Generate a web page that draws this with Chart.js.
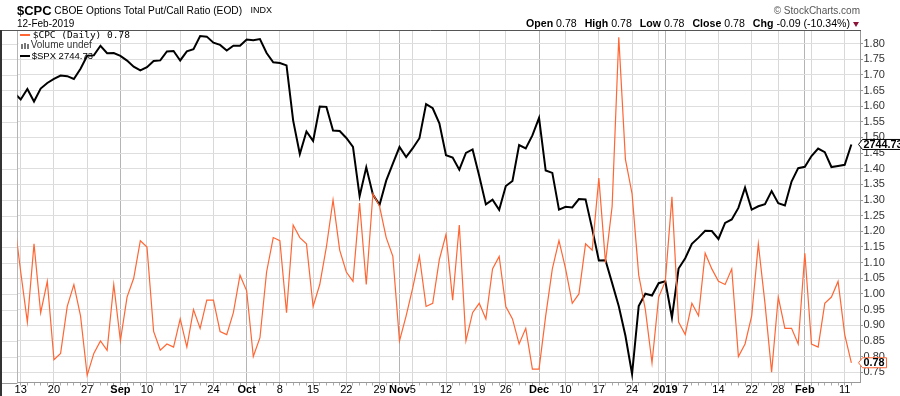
<!DOCTYPE html>
<html>
<head>
<meta charset="utf-8">
<script src="https://cdn.jsdelivr.net/npm/chart.js@4.4.1/dist/chart.umd.min.js"></script>
<style>
  body { margin: 0; background: #fff; }
  #wrap { position: relative; width: 900px; height: 396px; font-family: 'Liberation Sans', Arial, sans-serif; color: #000; overflow: hidden; }
  #wrap canvas { position: absolute; left: 0; top: 0; }
  .t { position: absolute; white-space: nowrap; line-height: 1; }
  .gap { margin-right: 5px; }
</style>
</head>
<body>
<div id="wrap">
  <canvas id="chart" width="900" height="396"></canvas>

  <div class="t" style="left:17px;top:3.6px;font-size:13px;font-weight:bold">$CPC</div>
  <div class="t" style="left:54.3px;top:5.5px;font-size:10.2px">CBOE Options Total Put/Call Ratio (EOD)</div>
  <div class="t" style="left:250.5px;top:6.4px;font-size:9px">INDX</div>
  <div class="t" style="left:17px;top:18.8px;font-size:10px">12-Feb-2019</div>

  <div class="t" style="right:40px;top:5.5px;font-size:10px;color:#555">&copy; StockCharts.com</div>
  <div class="t" style="right:50px;top:17.6px;font-size:10.6px">
    <b>Open</b> <span class="gap">0.78</span>
    <b>High</b> <span class="gap">0.78</span>
    <b>Low</b> <span class="gap">0.78</span>
    <b>Close</b> <span class="gap">0.78</span>
    <b>Chg</b> -0.09 (-10.34%)
  </div>
  <div class="t" style="left:853px;top:22px;width:0;height:0;border-left:3.5px solid transparent;border-right:3.5px solid transparent;border-top:5px solid #8b1538"></div>

  <!-- legend -->
  <div class="t" style="left:20px;top:34.3px;width:10px;height:2px;background:#ff6633"></div>
  <div class="t" style="left:32.7px;top:30.2px;font-family:'DejaVu Sans Mono',monospace;font-size:9.5px;line-height:10px">$CPC (Daily) 0.78</div>
  <div class="t" style="left:20.7px;top:44px;width:2px;height:5px;background:#777"></div>
  <div class="t" style="left:23.7px;top:42.5px;width:2px;height:6.5px;background:#777"></div>
  <div class="t" style="left:26.7px;top:43.5px;width:2px;height:5.5px;background:#777"></div>
  <div class="t" style="left:30.7px;top:40.1px;font-size:10px;line-height:10px;color:#333">Volume undef</div>
  <div class="t" style="left:20px;top:54.8px;width:10px;height:2px;background:#000"></div>
  <div class="t" style="left:31.7px;top:50.8px;font-size:9.5px;line-height:10px">$SPX 2744.73</div>
</div>

<script>
const FONT = "'Liberation Sans', Arial, sans-serif";

// trading days, Aug 10 2018 .. Feb 12 2019 (first one sits just left of the plot)
const days = [
  '08-10','08-13','08-14','08-15','08-16','08-17','08-20','08-21','08-22','08-23','08-24',
  '08-27','08-28','08-29','08-30','08-31',
  '09-04','09-05','09-06','09-07','09-10','09-11','09-12','09-13','09-14','09-17','09-18',
  '09-19','09-20','09-21','09-24','09-25','09-26','09-27','09-28',
  '10-01','10-02','10-03','10-04','10-05','10-08','10-09','10-10','10-11','10-12','10-15',
  '10-16','10-17','10-18','10-19','10-22','10-23','10-24','10-25','10-26','10-29','10-30','10-31',
  '11-01','11-02','11-05','11-06','11-07','11-08','11-09','11-12','11-13','11-14','11-15',
  '11-16','11-19','11-20','11-21','11-23','11-26','11-27','11-28','11-29','11-30',
  '12-03','12-04','12-06','12-07','12-10','12-11','12-12','12-13','12-14','12-17','12-18',
  '12-19','12-20','12-21','12-24','12-26','12-27','12-28','12-31',
  '01-02','01-03','01-04','01-07','01-08','01-09','01-10','01-11','01-14','01-15','01-16',
  '01-17','01-18','01-22','01-23','01-24','01-25','01-28','01-29','01-30','01-31',
  '02-01','02-04','02-05','02-06','02-07','02-08','02-11','02-12'
];

const cpc = [
  1.24, 1.07, 0.91, 1.16, 0.94, 1.04, 0.79, 0.81, 0.96, 1.03, 0.93,
  0.74, 0.81, 0.85, 0.82, 1.03,
  0.85, 0.99, 1.05, 1.17, 1.15, 0.88, 0.82, 0.84, 0.83, 0.92, 0.83,
  0.95, 0.89, 0.98, 0.98, 0.88, 0.87, 0.94, 1.06,
  1.01, 0.80, 0.86, 1.07, 1.18, 1.17, 0.94, 1.22, 1.18, 1.16, 0.96,
  1.03, 1.15, 1.30, 1.14, 1.07, 1.04, 1.29, 1.03, 1.32, 1.28, 1.18, 1.12,
  0.85, 0.93, 1.02, 1.12, 0.96, 0.97, 1.11, 1.19, 0.98, 1.22, 0.85,
  0.94, 0.97, 0.92, 1.08, 1.12, 0.96, 0.92, 0.84, 0.89, 0.76,
  0.76, 0.93, 1.08, 1.17, 1.08, 0.97, 1.00, 1.16, 1.14, 1.37, 1.10,
  1.28, 1.82, 1.43, 1.32, 1.06, 0.95, 0.78, 0.99,
  1.04, 1.31, 0.91, 0.87, 0.97, 0.93, 1.13, 1.08, 1.04, 1.03, 1.08,
  0.80, 0.84, 0.93, 1.16, 0.97, 0.75, 0.99, 0.89, 0.89, 0.84,
  1.13, 0.84, 0.83, 0.97, 0.99, 1.04, 0.87, 0.78
];

const spx = [
  2833.28, 2821.93, 2839.96, 2818.37, 2840.69, 2850.13, 2857.05, 2862.96, 2861.82, 2856.98, 2874.69,
  2896.74, 2897.52, 2914.04, 2901.13, 2901.52,
  2896.72, 2888.60, 2878.05, 2871.68, 2877.13, 2887.89, 2888.92, 2904.18, 2904.98, 2888.80, 2904.31,
  2907.95, 2930.75, 2929.67, 2919.37, 2915.56, 2905.97, 2914.00, 2913.98,
  2924.59, 2923.43, 2925.51, 2901.61, 2885.57, 2884.43, 2880.34, 2785.68, 2728.37, 2767.13, 2750.79,
  2809.92, 2809.21, 2768.78, 2767.78, 2755.88, 2740.69, 2656.10, 2705.57, 2658.69, 2641.25, 2682.63, 2711.74,
  2740.37, 2723.06, 2738.31, 2755.45, 2813.89, 2806.83, 2781.01, 2726.22, 2722.18, 2701.58, 2730.20,
  2736.27, 2690.73, 2641.89, 2649.93, 2632.56, 2673.45, 2682.17, 2743.79, 2737.80, 2760.17,
  2790.37, 2700.06, 2695.95, 2633.08, 2637.72, 2636.78, 2651.07, 2650.54, 2599.95, 2545.94, 2546.16,
  2506.96, 2467.42, 2416.62, 2351.10, 2467.70, 2488.83, 2485.74, 2506.85,
  2510.03, 2447.89, 2531.94, 2549.69, 2574.41, 2584.96, 2596.64, 2596.26, 2582.61, 2610.30, 2616.10,
  2635.96, 2670.71, 2632.90, 2638.70, 2642.33, 2664.76, 2643.85, 2640.00, 2681.05, 2704.10,
  2706.53, 2724.87, 2737.70, 2731.61, 2706.05, 2707.88, 2709.80, 2744.73
];

// weekly tick positions (index from Aug 13) and their labels; month starts are bold
const tickIdx  = [0, 5, 10, 15, 19, 24, 29, 34, 39, 44, 49, 54, 57, 59, 64, 69, 73, 78,
                  82, 87, 92, 96, 97, 100, 105, 110, 114, 118, 119, 124];
const tickText = ['13', '20', '27', 'Sep', '10', '17', '24', 'Oct', '8', '15', '22', '29', 'Nov', '5', '12', '19', '26', 'Dec',
                  '10', '17', '24', '', '2019', '7', '14', '22', '28', 'Feb', '', '11'];
const monthIdx = [15, 34, 57, 78, 97, 118];

const ORANGE = '#ff6633';

function labelFor(v) {
  const k = tickIdx.indexOf(v);
  return k < 0 ? '' : tickText[k];
}

function gridColor(v) {
  if (monthIdx.includes(v)) return '#b4b4b4';
  if (tickIdx.includes(v)) return '#d8d8d8';
  return 'rgba(0,0,0,0)';
}

function priceTag(c, y, text, color, right) {
  c.beginPath();
  c.moveTo(858.5, y);
  c.lineTo(862.5, y - 5);
  c.lineTo(right, y - 5);
  c.lineTo(right, y + 5);
  c.lineTo(862.5, y + 5);
  c.closePath();
  c.fillStyle = '#fff';
  c.fill();
  c.strokeStyle = color;
  c.lineWidth = 1;
  c.stroke();
  c.fillStyle = '#000';
  c.font = 'bold 10.8px ' + FONT;
  c.textBaseline = 'middle';
  c.textAlign = 'left';
  c.fillText(text, 863.5, y + 0.5);
}

const framePlugin = {
  id: 'frame',
  beforeDraw(chart) {
    const c = chart.ctx, a = chart.chartArea, y = chart.scales.y;
    c.save();
    c.fillStyle = '#fff';
    c.fillRect(0, 0, chart.width, chart.height);
    // grid runs on into the strip left of the plot
    c.strokeStyle = '#dedede';
    c.lineWidth = 1;
    y.ticks.forEach(t => {
      const py = Math.round(y.getPixelForValue(t.value)) + 0.5;
      c.beginPath(); c.moveTo(1, py); c.lineTo(a.left, py); c.stroke();
    });
    c.restore();
  },
  beforeDatasetsDraw(chart) {
    const c = chart.ctx, a = chart.chartArea;
    c.save();
    c.fillStyle = '#fff';
    c.fillRect(a.left + 1, a.top, 70, 26);
    c.strokeStyle = '#b4b4b4';
    c.beginPath();
    c.moveTo(Math.round(a.left) + 0.5, a.top);
    c.lineTo(Math.round(a.left) + 0.5, a.bottom);
    c.stroke();
    c.restore();
  },
  afterDraw(chart) {
    const c = chart.ctx, a = chart.chartArea;
    c.save();
    c.strokeStyle = '#555';
    c.lineWidth = 1;
    c.beginPath(); c.moveTo(0, 30.5); c.lineTo(a.right + 1, 30.5); c.stroke();
    c.strokeStyle = '#999';
    c.beginPath(); c.moveTo(1, Math.round(a.bottom) + 0.5); c.lineTo(a.left, Math.round(a.bottom) + 0.5); c.stroke();
    c.strokeStyle = '#333';
    c.lineWidth = 2;
    c.beginPath(); c.moveTo(1, 30); c.lineTo(1, chart.height); c.stroke();

    const ys = chart.scales.ySpx, yc = chart.scales.y;
    priceTag(c, ys.getPixelForValue(spx[spx.length - 1]), '2744.73', '#000', 903);
    priceTag(c, yc.getPixelForValue(cpc[cpc.length - 1]), '0.78', ORANGE, 886.5);
    c.restore();
  }
};

new Chart(document.getElementById('chart'), {
  type: 'line',
  data: {
    datasets: [
      {
        label: '$CPC (Daily)',
        data: cpc.map((v, k) => ({ x: k - 1, y: v })),
        yAxisID: 'y',
        borderColor: ORANGE,
        borderWidth: 1.2,
        pointRadius: 0,
        tension: 0
      },
      {
        label: '$SPX',
        data: spx.map((v, k) => ({ x: k - 1, y: v })),
        yAxisID: 'ySpx',
        borderColor: '#000',
        borderWidth: 2,
        pointRadius: 0,
        tension: 0
      }
    ]
  },
  options: {
    responsive: false,
    devicePixelRatio: 1,
    animation: false,
    layout: { padding: { left: 17.4, top: 31, right: 0, bottom: 0 } },
    plugins: { legend: { display: false }, tooltip: { enabled: false } },
    scales: {
      x: {
        type: 'linear',
        position: 'bottom',
        min: -0.5,
        max: 126.3,
        afterBuildTicks(s) { s.ticks = days.slice(1).map((d, i) => ({ value: i })); },
        afterFit(s) { s.height = 13.5; },
        ticks: {
          autoSkip: false,
          maxRotation: 0,
          padding: -1,
          color: '#000',
          font: c => ({ family: FONT, size: 11, lineHeight: 1, weight: monthIdx.includes(c.tick && c.tick.value) ? 'bold' : 'normal' }),
          callback: v => labelFor(v)
        },
        grid: { color: c => gridColor(c.tick && c.tick.value), tickColor: '#aaa', tickLength: 3 },
        border: { color: '#999' }
      },
      y: {
        position: 'right',
        min: 0.717,
        max: 1.84,
        afterFit(s) { s.width = 40; },
        ticks: {
          stepSize: 0.05,
          includeBounds: false,
          padding: 0.5,
          color: '#333',
          font: { family: FONT, size: 11 },
          callback: v => v.toFixed(2)
        },
        grid: { color: '#dedede', tickColor: '#999', tickLength: 3 },
        border: { color: '#999' }
      },
      ySpx: {
        display: false,
        min: 2336.5,
        max: 2939.33
      }
    }
  },
  plugins: [framePlugin]
});
</script>
</body>
</html>
